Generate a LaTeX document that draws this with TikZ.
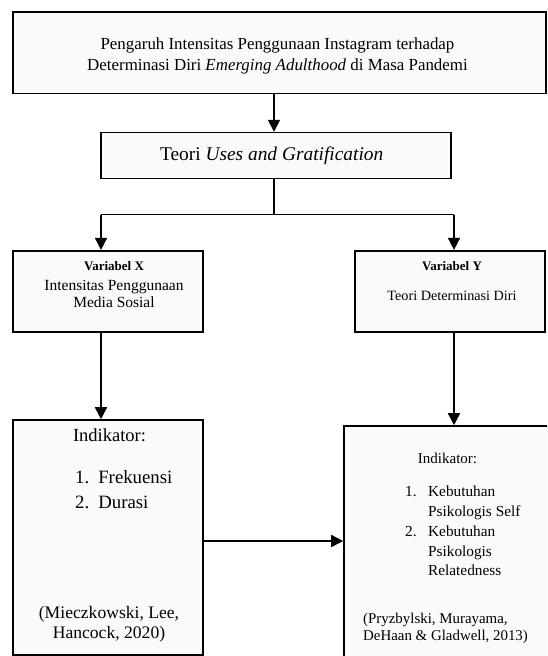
\documentclass[tikz,border=0pt]{standalone}
\usepackage{fontspec}
\setmainfont{Liberation Serif}
\usetikzlibrary{arrows.meta}

\tikzset{
	box/.style={draw, line width=1.6pt, fill=black!2, inner sep=0pt},
	link/.style={line width=1.6pt},
	arrow/.style={line width=1.6pt, -{Triangle[length=12pt,width=12pt]}},
}

\begin{document}
\begin{tikzpicture}[x=1pt, y=-1pt]
		\useasboundingbox (0,0) rectangle (547,656);
		\clip (0,0) rectangle (547,656);
		
		% Boxes
		\node[box, minimum width=533pt, minimum height=81.5pt] (judul) at (279.5,52.75) {};
		\node[box, minimum width=350pt, minimum height=46pt] (teori) at (276,155.6) {};
		\node[box, minimum width=190pt, minimum height=81pt] (varX) at (108,291.2) {};
		\node[box, minimum width=190pt, minimum height=81pt] (varY) at (450,291.2) {};
		\node[box, minimum width=190pt, minimum height=235pt] (indX) at (108,537.5) {};
		\node[box, minimum width=240pt, minimum height=280pt] (indY) at (464,566) {};
		
		% Title
		\node[align=center, font=\fontsize{16.9}{21.6}\selectfont] (judulText) at (277.5,56)
			{Pengaruh Intensitas Penggunaan Instagram terhadap\\Determinasi Diri \textit{Emerging Adulthood} di Masa Pandemi};
		\node[font=\fontsize{19.4}{22}\selectfont] (teoriText) at (271.7,156) {Teori \textit{Uses and Gratification}};
		
		% Variabel X
		\node[font=\fontsize{13}{15}\selectfont\bfseries] (varXHead) at (114,266) {Variabel X};
		\node[align=center, font=\fontsize{15.5}{17.5}\selectfont] (varXText) at (114,294)
			{Intensitas Penggunaan\\Media Sosial};
		% Variabel Y
		\node[font=\fontsize{13}{15}\selectfont\bfseries] (varYHead) at (452,266) {Variabel Y};
		\node[font=\fontsize{14.2}{16}\selectfont] (varYText) at (452,296) {Teori Determinasi Diri};
		
		% Indikator X
		\node[font=\fontsize{18.5}{20}\selectfont] (indXHead) at (109.5,435) {Indikator:};
		\node[anchor=west, font=\fontsize{18.8}{25}\selectfont, inner sep=0pt] (indXList) at (75,491)
			{\begin{tabular}{@{}l@{\hspace{9pt}}l@{}}1. & Frekuensi\\2. & Durasi\end{tabular}};
		\node[align=center, font=\fontsize{17.6}{20}\selectfont] (indXCite) at (109,624)
			{(Mieczkowski, Lee,\\Hancock, 2020)};
		
		% Indikator Y
		\node[font=\fontsize{15}{17}\selectfont] (indYHead) at (447.5,458) {Indikator:};
		\node[anchor=west, font=\fontsize{15.3}{19.75}\selectfont, inner sep=0pt] (indYList) at (405,532.5)
			{\begin{tabular}{@{}l@{\hspace{11.5pt}}l@{}}1. & Kebutuhan\\ & Psikologis Self\\2. & Kebutuhan\\ & Psikologis\\ & Relatedness\end{tabular}};
		\node[anchor=west, align=left, font=\fontsize{14.9}{17}\selectfont, inner sep=0pt] (indYCite) at (363,628.5)
			{(Pryzbylski, Murayama,\\DeHaan \& Gladwell, 2013)};
		
		% Connectors
		\coordinate (tengah) at (274,0);
		\coordinate (cabangL) at (101,214.6);
		\coordinate (cabangR) at (454,214.6);
		\draw[arrow] (tengah |- judul.south) -- (tengah |- teori.north);
		\draw[link] (tengah |- teori.south) -- (tengah |- cabangL);
		\draw[link] (cabangL) -- (cabangR);
		\draw[arrow] (cabangL) -- (cabangL |- varX.north);
		\draw[arrow] (cabangR) -- (cabangR |- varY.north);
		\draw[arrow] (cabangL |- varX.south) -- (cabangL |- indX.north);
		\draw[arrow] (cabangR |- varY.south) -- (cabangR |- indY.north);
		\draw[arrow] (indX.east |- 0,541) -- (indY.west |- 0,541);
		
\end{tikzpicture}
\end{document}
